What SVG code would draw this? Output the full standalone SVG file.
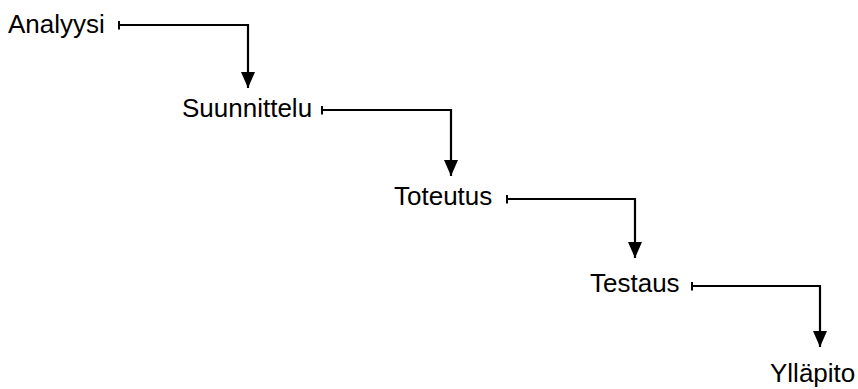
<svg xmlns="http://www.w3.org/2000/svg" width="858" height="389" viewBox="0 0 858 389">
  <style>
    .label { font-family: "Liberation Sans", Arial, sans-serif; font-size: 26px; fill: #000; }
    .flow { fill: none; stroke: #000; stroke-width: 2.2; marker-start: url(#bar); marker-end: url(#arrow); }
  </style>
  <defs>
    <!-- downward arrowhead at the end of each step -->
    <marker id="arrow" markerUnits="userSpaceOnUse" markerWidth="16" markerHeight="14" viewBox="0 0 16 14" refX="16" refY="7" orient="auto">
      <path d="M0,0 L16,7 L0,14 z" fill="#000"/>
    </marker>
    <!-- short bar at the start of each step -->
    <marker id="bar" markerUnits="userSpaceOnUse" markerWidth="2" markerHeight="9" viewBox="0 0 2 9" refX="1" refY="4.5" orient="auto">
      <rect x="0" y="0" width="2" height="9" fill="#000"/>
    </marker>
  </defs>

  <rect width="858" height="389" fill="#fff"/>

  <g id="connectors">
    <path class="flow" d="M119,25 H248 V88"/>
    <path class="flow" d="M322,110 H451 V176"/>
    <path class="flow" d="M507,199 H635 V258"/>
    <path class="flow" d="M692,286 H820 V347"/>
  </g>

  <g id="analyysi"><text class="label" x="8" y="33">Analyysi</text></g>
  <g id="suunnittelu"><text class="label" x="182" y="117">Suunnittelu</text></g>
  <g id="toteutus"><text class="label" x="394" y="205">Toteutus</text></g>
  <g id="testaus"><text class="label" x="590" y="292">Testaus</text></g>
  <g id="yllapito"><text class="label" x="770" y="382">Ylläpito</text></g>
</svg>
